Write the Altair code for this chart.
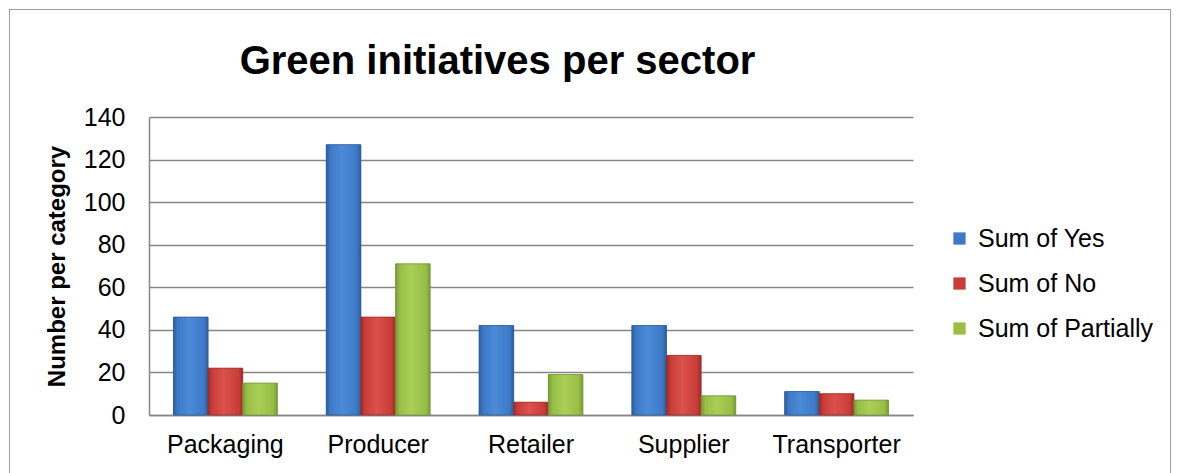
import altair as alt
import pandas as pd

sectors = ["Packaging", "Producer", "Retailer", "Supplier", "Transporter"]
series = ["Sum of Yes", "Sum of No", "Sum of Partially"]
yes_vals = [46, 127, 42, 42, 11]
no_vals = [22, 46, 6, 28, 10]
partially_vals = [15, 71, 19, 9, 7]
colors = ["#3D79C6", "#C93C38", "#98BE46"]
edge_colors = ["#2B5C9C", "#9C2B28", "#77983A"]
light_colors = ["#4C8BD8", "#DA524C", "#A9CF58"]
y_ticks = [0, 20, 40, 60, 80, 100, 120, 140]
title_text = "Green initiatives per sector"
y_title = "Number per category"

rows = []
for s, vals in zip(series, [yes_vals, no_vals, partially_vals]):
    for sec, v in zip(sectors, vals):
        rows.append({"Sector": sec, "Series": s, "Value": v})
df = pd.DataFrame(rows)

FONT = "Liberation Sans"
W, H = 764, 298
L, T = 149, 117

x_enc = alt.X("Sector:N", sort=sectors,
              scale=alt.Scale(paddingInner=0.32, paddingOuter=0.16),
              axis=alt.Axis(title=None, labelAngle=0, ticks=False, grid=False,
                            labelFontSize=25, labelFont=FONT, labelColor="#000000",
                            labelPadding=17, domainColor="#868686", domainWidth=1.5))
xo_enc = alt.XOffset("Series:N", sort=series,
                     scale=alt.Scale(domain=series, paddingInner=0, paddingOuter=0))
y_enc = alt.Y("Value:Q", scale=alt.Scale(domain=[0, 140], nice=False),
              axis=alt.Axis(title=y_title, values=y_ticks, ticks=False, grid=True,
                            gridColor="#868686", gridWidth=1.3,
                            domainColor="#868686", domainWidth=1.5,
                            labelFontSize=25, labelFont=FONT, labelColor="#000000",
                            labelPadding=24,
                            titleFontSize=24, titleFont=FONT, titleFontWeight="bold",
                            titleColor="#000000", titleX=-92, titleY=H / 2,
                            titleBaseline="middle", titleAngle=270))

bars = alt.Chart(df).mark_bar().encode(
    x=x_enc, xOffset=xo_enc, y=y_enc,
    color=alt.Color("Series:N", sort=series,
                    scale=alt.Scale(domain=series, range=colors),
                    legend=alt.Legend(title=None, orient="none",
                                      legendX=798, legendY=109,
                                      symbolType="square", symbolSize=150,
                                      symbolStrokeWidth=0,
                                      labelFontSize=25, labelFont=FONT,
                                      labelColor="#000000", labelOffset=6,
                                      labelLimit=0, rowPadding=19)),
)

overlays = []
for s, ec, mc, lc in zip(series, edge_colors, colors, light_colors):
    grad = alt.Gradient(
        gradient="linear", x1=0, x2=1, y1=0, y2=0,
        stops=[alt.GradientStop(offset=0, color=ec),
               alt.GradientStop(offset=0.12, color=mc),
               alt.GradientStop(offset=0.45, color=lc),
               alt.GradientStop(offset=0.88, color=mc),
               alt.GradientStop(offset=1, color=ec)])
    overlays.append(
        alt.Chart(df).transform_filter(alt.datum.Series == s)
        .mark_bar(fill=grad, stroke=ec, strokeWidth=0.8)
        .encode(x=x_enc, xOffset=xo_enc, y=y_enc)
    )

title_df = pd.DataFrame({"t": [title_text]})
title = alt.Chart(title_df).mark_text(
    font=FONT, fontSize=40, fontWeight="bold",
    align="center", baseline="alphabetic", color="#000000"
).encode(text="t:N", x=alt.value(497.5 - L), y=alt.value(74 - T))

border_df = pd.DataFrame({"a": [0]})
top_line = alt.Chart(border_df).mark_rule(color="#A0A0A0", strokeWidth=1).encode(
    x=alt.value(9 - L), x2=alt.value(1171 - L), y=alt.value(9.5 - T))
left_line = alt.Chart(border_df).mark_rule(color="#A0A0A0", strokeWidth=1).encode(
    x=alt.value(9.5 - L), y=alt.value(9 - T), y2=alt.value(480 - T))
right_line = alt.Chart(border_df).mark_rule(color="#A0A0A0", strokeWidth=1).encode(
    x=alt.value(1170.5 - L), y=alt.value(9 - T), y2=alt.value(480 - T))

chart = alt.layer(bars, *overlays, title, top_line, left_line, right_line).properties(
    width=W, height=H,
    autosize=alt.AutoSizeParams(type="none"),
    padding={"left": L, "top": T, "right": 1180 - L - W, "bottom": 473 - T - H},
    background="#FFFFFF",
).configure_view(stroke=None)

chart.save("out.html", embed_options={"renderer": "svg", "actions": False})
